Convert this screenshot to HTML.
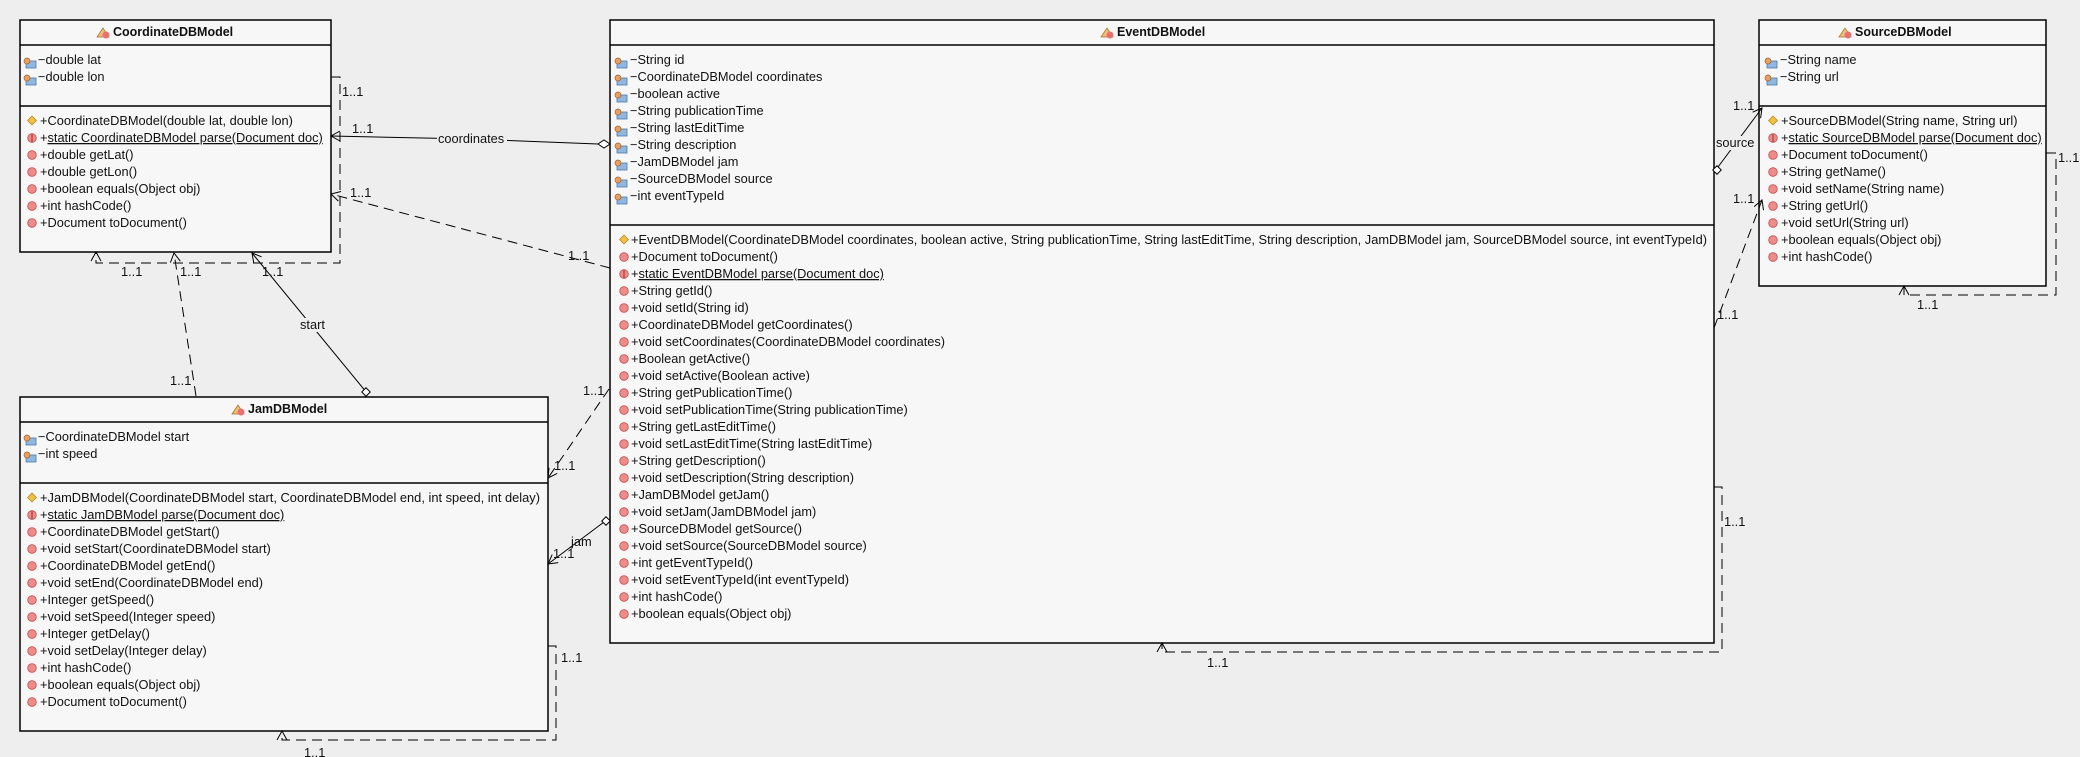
<!DOCTYPE html>
<html><head><meta charset="utf-8"><style>
html,body{margin:0;padding:0;background:#eeeeee;}
svg{display:block;}
text{font-family:"Liberation Sans",sans-serif;font-size:12.8px;fill:#111;}
.t{font-weight:bold;font-size:12.5px;}
.b{fill:#f7f7f7;stroke:#000;stroke-width:1.5;}
.d{stroke:#000;stroke-width:1.5;}
.c{fill:none;stroke:#000;stroke-width:1;}
.dash{fill:none;stroke:#000;stroke-width:1;stroke-dasharray:10,6;}
</style></head><body>
<svg width="2080" height="757" viewBox="0 0 2080 757" xmlns="http://www.w3.org/2000/svg">
<defs>
<g id="a"><rect x="2" y="-3" width="10" height="7" fill="#8fb7e0" stroke="#4a78a8" stroke-width="0.8"/><circle cx="3" cy="-3" r="3" fill="#e8a060" stroke="#a06030" stroke-width="0.7"/></g>
<g id="m"><circle cx="0" cy="-4" r="4.3" fill="#ee8c8c" stroke="#c05050" stroke-width="0.8"/></g>
<g id="k"><path d="M0,-9 L4.5,-4.5 L0,0 L-4.5,-4.5Z" fill="#f0c040" stroke="#b08020" stroke-width="0.7"/></g>
<g id="s"><circle cx="0" cy="-4" r="4.3" fill="#ee8c8c" stroke="#c05050" stroke-width="0.8"/><line x1="0" y1="-8.3" x2="0" y2="0.3" stroke="#a04040" stroke-width="1.2"/></g>
<g id="ci"><path d="M0,0 L6,-9 L12,0Z" fill="#f0c070" stroke="#a07030" stroke-width="0.7"/><circle cx="9" cy="-2" r="3.5" fill="#e87070"/></g>
</defs>

<!-- CoordinateDBModel -->
<rect class="b" x="20" y="20" width="311" height="232"/>
<line class="d" x1="20" y1="45" x2="331" y2="45"/>
<line class="d" x1="20" y1="106" x2="331" y2="106"/>
<use href="#ci" x="97" y="37"/><text class="t" x="113" y="36">CoordinateDBModel</text>
<use href="#a" x="24" y="64"/><text x="38" y="64">−double lat</text>
<use href="#a" x="24" y="81"/><text x="38" y="81">−double lon</text>
<use href="#k" x="32" y="125"/><text x="40" y="125">+CoordinateDBModel(double lat, double lon)</text>
<use href="#s" x="32" y="142"/><text x="40" y="142">+<tspan text-decoration="underline">static CoordinateDBModel parse(Document doc)</tspan></text>
<use href="#m" x="32" y="159"/><text x="40" y="159">+double getLat()</text>
<use href="#m" x="32" y="176"/><text x="40" y="176">+double getLon()</text>
<use href="#m" x="32" y="193"/><text x="40" y="193">+boolean equals(Object obj)</text>
<use href="#m" x="32" y="210"/><text x="40" y="210">+int hashCode()</text>
<use href="#m" x="32" y="227"/><text x="40" y="227">+Document toDocument()</text>

<!-- JamDBModel -->
<rect class="b" x="20" y="397" width="528" height="334"/>
<line class="d" x1="20" y1="422" x2="548" y2="422"/>
<line class="d" x1="20" y1="483" x2="548" y2="483"/>
<use href="#ci" x="232" y="414"/><text class="t" x="248" y="413">JamDBModel</text>
<use href="#a" x="24" y="441"/><text x="38" y="441">−CoordinateDBModel start</text>
<use href="#a" x="24" y="458"/><text x="38" y="458">−int speed</text>
<use href="#k" x="32" y="502"/><text x="40" y="502" textLength="500" lengthAdjust="spacingAndGlyphs">+JamDBModel(CoordinateDBModel start, CoordinateDBModel end, int speed, int delay)</text>
<use href="#s" x="32" y="519"/><text x="40" y="519">+<tspan text-decoration="underline">static JamDBModel parse(Document doc)</tspan></text>
<use href="#m" x="32" y="536"/><text x="40" y="536">+CoordinateDBModel getStart()</text>
<use href="#m" x="32" y="553"/><text x="40" y="553">+void setStart(CoordinateDBModel start)</text>
<use href="#m" x="32" y="570"/><text x="40" y="570">+CoordinateDBModel getEnd()</text>
<use href="#m" x="32" y="587"/><text x="40" y="587">+void setEnd(CoordinateDBModel end)</text>
<use href="#m" x="32" y="604"/><text x="40" y="604">+Integer getSpeed()</text>
<use href="#m" x="32" y="621"/><text x="40" y="621">+void setSpeed(Integer speed)</text>
<use href="#m" x="32" y="638"/><text x="40" y="638">+Integer getDelay()</text>
<use href="#m" x="32" y="655"/><text x="40" y="655">+void setDelay(Integer delay)</text>
<use href="#m" x="32" y="672"/><text x="40" y="672">+int hashCode()</text>
<use href="#m" x="32" y="689"/><text x="40" y="689">+boolean equals(Object obj)</text>
<use href="#m" x="32" y="706"/><text x="40" y="706">+Document toDocument()</text>

<!-- EventDBModel -->
<rect class="b" x="610" y="20" width="1104" height="623"/>
<line class="d" x1="610" y1="45" x2="1714" y2="45"/>
<line class="d" x1="610" y1="225" x2="1714" y2="225"/>
<use href="#ci" x="1101" y="37"/><text class="t" x="1117" y="36">EventDBModel</text>
<use href="#a" x="615" y="64"/><text x="630" y="64">−String id</text>
<use href="#a" x="615" y="81"/><text x="630" y="81">−CoordinateDBModel coordinates</text>
<use href="#a" x="615" y="98"/><text x="630" y="98">−boolean active</text>
<use href="#a" x="615" y="115"/><text x="630" y="115">−String publicationTime</text>
<use href="#a" x="615" y="132"/><text x="630" y="132">−String lastEditTime</text>
<use href="#a" x="615" y="149"/><text x="630" y="149">−String description</text>
<use href="#a" x="615" y="166"/><text x="630" y="166">−JamDBModel jam</text>
<use href="#a" x="615" y="183"/><text x="630" y="183">−SourceDBModel source</text>
<use href="#a" x="615" y="200"/><text x="630" y="200">−int eventTypeId</text>
<use href="#k" x="624" y="244"/><text x="631" y="244" textLength="1076" lengthAdjust="spacingAndGlyphs">+EventDBModel(CoordinateDBModel coordinates, boolean active, String publicationTime, String lastEditTime, String description, JamDBModel jam, SourceDBModel source, int eventTypeId)</text>
<use href="#m" x="624" y="261"/><text x="631" y="261">+Document toDocument()</text>
<use href="#s" x="624" y="278"/><text x="631" y="278">+<tspan text-decoration="underline">static EventDBModel parse(Document doc)</tspan></text>
<use href="#m" x="624" y="295"/><text x="631" y="295">+String getId()</text>
<use href="#m" x="624" y="312"/><text x="631" y="312">+void setId(String id)</text>
<use href="#m" x="624" y="329"/><text x="631" y="329">+CoordinateDBModel getCoordinates()</text>
<use href="#m" x="624" y="346"/><text x="631" y="346">+void setCoordinates(CoordinateDBModel coordinates)</text>
<use href="#m" x="624" y="363"/><text x="631" y="363">+Boolean getActive()</text>
<use href="#m" x="624" y="380"/><text x="631" y="380">+void setActive(Boolean active)</text>
<use href="#m" x="624" y="397"/><text x="631" y="397">+String getPublicationTime()</text>
<use href="#m" x="624" y="414"/><text x="631" y="414">+void setPublicationTime(String publicationTime)</text>
<use href="#m" x="624" y="431"/><text x="631" y="431">+String getLastEditTime()</text>
<use href="#m" x="624" y="448"/><text x="631" y="448">+void setLastEditTime(String lastEditTime)</text>
<use href="#m" x="624" y="465"/><text x="631" y="465">+String getDescription()</text>
<use href="#m" x="624" y="482"/><text x="631" y="482">+void setDescription(String description)</text>
<use href="#m" x="624" y="499"/><text x="631" y="499">+JamDBModel getJam()</text>
<use href="#m" x="624" y="516"/><text x="631" y="516">+void setJam(JamDBModel jam)</text>
<use href="#m" x="624" y="533"/><text x="631" y="533">+SourceDBModel getSource()</text>
<use href="#m" x="624" y="550"/><text x="631" y="550">+void setSource(SourceDBModel source)</text>
<use href="#m" x="624" y="567"/><text x="631" y="567">+int getEventTypeId()</text>
<use href="#m" x="624" y="584"/><text x="631" y="584">+void setEventTypeId(int eventTypeId)</text>
<use href="#m" x="624" y="601"/><text x="631" y="601">+int hashCode()</text>
<use href="#m" x="624" y="618"/><text x="631" y="618">+boolean equals(Object obj)</text>

<!-- SourceDBModel -->
<rect class="b" x="1759" y="20" width="287" height="266"/>
<line class="d" x1="1759" y1="45" x2="2046" y2="45"/>
<line class="d" x1="1759" y1="106" x2="2046" y2="106"/>
<use href="#ci" x="1839" y="37"/><text class="t" x="1855" y="36">SourceDBModel</text>
<use href="#a" x="1765" y="64"/><text x="1780" y="64">−String name</text>
<use href="#a" x="1765" y="81"/><text x="1780" y="81">−String url</text>
<use href="#k" x="1773" y="125"/><text x="1781" y="125">+SourceDBModel(String name, String url)</text>
<use href="#s" x="1773" y="142"/><text x="1781" y="142">+<tspan text-decoration="underline">static SourceDBModel parse(Document doc)</tspan></text>
<use href="#m" x="1773" y="159"/><text x="1781" y="159">+Document toDocument()</text>
<use href="#m" x="1773" y="176"/><text x="1781" y="176">+String getName()</text>
<use href="#m" x="1773" y="193"/><text x="1781" y="193">+void setName(String name)</text>
<use href="#m" x="1773" y="210"/><text x="1781" y="210">+String getUrl()</text>
<use href="#m" x="1773" y="227"/><text x="1781" y="227">+void setUrl(String url)</text>
<use href="#m" x="1773" y="244"/><text x="1781" y="244">+boolean equals(Object obj)</text>
<use href="#m" x="1773" y="261"/><text x="1781" y="261">+int hashCode()</text>

<!-- connectors -->
<polyline class="c" points="331,136 471,139 598,144"/>
<polyline class="c" points="340,131 331,136 340,141"/>
<path d="M610,144 L604,140 L598,144 L604,148Z" fill="#fff" stroke="#000"/>
<rect x="437" y="132" width="70" height="14" fill="#eeeeee"/>
<text x="438" y="143">coordinates</text>
<text x="352" y="133">1..1</text>

<line class="dash" x1="610" y1="268" x2="331" y2="194"/>
<polyline class="c" points="341,191.5 331,194 338.4,201.1"/>
<text x="568" y="260">1..1</text>
<text x="350" y="197">1..1</text>

<path class="dash" d="M331,77 H340 V263 H96 V253"/>
<polyline class="c" points="91,261 96,252 101,261"/>
<text x="342" y="96">1..1</text>
<text x="121" y="276">1..1</text>

<line class="dash" x1="196" y1="396" x2="174" y2="253"/>
<polyline class="c" points="180.3,261.2 174,253 170.4,262.6"/>
<text x="180" y="276">1..1</text>
<text x="170" y="385">1..1</text>

<line class="c" x1="367" y1="393" x2="252" y2="253"/>
<polyline class="c" points="261.6,256.8 252,253 253.8,263.2"/>
<rect x="363" y="389" width="6" height="6" transform="rotate(45 366 392)" fill="#fff" stroke="#000"/>
<rect x="299" y="318" width="29" height="14" fill="#eeeeee"/>
<text x="300" y="329">start</text>
<text x="262" y="276">1..1</text>

<line class="dash" x1="609" y1="389" x2="548" y2="478"/>
<polyline class="c" points="557.2,473.4 548,478 549,467.8"/>
<text x="583" y="395">1..1</text>
<text x="554" y="470">1..1</text>

<line class="c" x1="604" y1="522" x2="548" y2="564"/>
<polyline class="c" points="558.2,562.6 548,564 552.2,554.6"/>
<rect x="603" y="518" width="6" height="6" transform="rotate(45 606 521)" fill="#fff" stroke="#000"/>
<text x="571" y="546">jam</text>
<text x="553" y="558">1..1</text>

<path class="dash" d="M548,646 H556 V740 H282 V732"/>
<polyline class="c" points="277,740 282,731 287,740"/>
<text x="561" y="662">1..1</text>
<text x="304" y="757">1..1</text>

<line class="c" x1="1718" y1="167" x2="1762" y2="108"/>
<polyline class="c" points="1760.6,118.2 1762,108 1752.6,112.2"/>
<rect x="1714" y="167" width="6" height="6" transform="rotate(45 1717 170)" fill="#fff" stroke="#000"/>
<rect x="1715" y="136" width="40" height="14" fill="#eeeeee"/>
<text x="1716" y="147">source</text>
<text x="1733" y="110">1..1</text>

<line class="dash" x1="1714" y1="328" x2="1762" y2="200"/>
<polyline class="c" points="1763.5,210.2 1762,200 1754.1,206.6"/>
<text x="1717" y="319">1..1</text>
<text x="1733" y="203">1..1</text>

<path class="dash" d="M2046,153 H2056 V295 H1904 V287"/>
<polyline class="c" points="1899,295 1904,286 1909,295"/>
<text x="2058" y="162">1..1</text>
<text x="1917" y="309">1..1</text>

<path class="dash" d="M1714,487 H1722 V652 H1162 V644"/>
<polyline class="c" points="1157,652 1162,643 1167,652"/>
<text x="1724" y="526">1..1</text>
<text x="1207" y="667">1..1</text>
</svg>
</body></html>
